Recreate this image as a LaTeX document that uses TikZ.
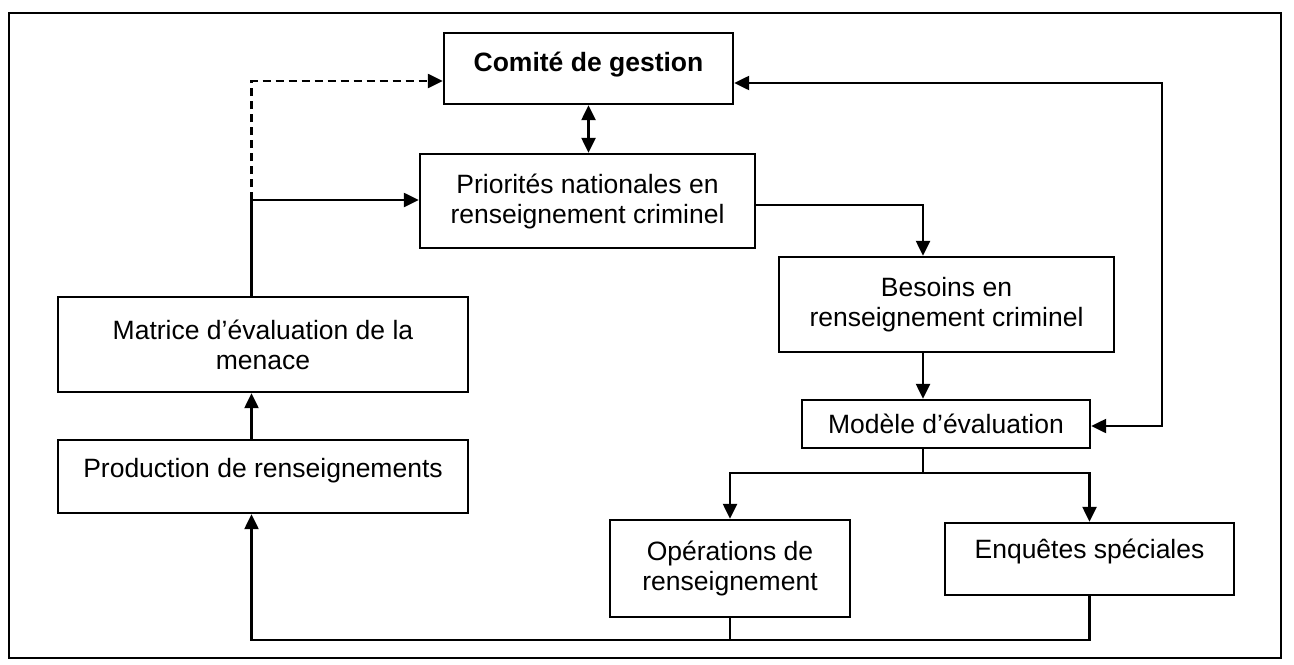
\documentclass[tikz,border=0pt]{standalone}
\usepackage{fontspec}
\setmainfont{Liberation Sans}
\usetikzlibrary{calc,positioning,arrows.meta}

\begin{document}
\begin{tikzpicture}[x=0.5pt,y=-0.5pt,line width=1.2pt,>={Triangle[length=7.5pt,width=7pt]},
  box/.style={draw,rectangle,align=center,inner sep=0pt,font=\fontsize{13.25}{15}\selectfont},
  up/.style={text depth=#1}]
            \useasboundingbox (0,0) rectangle (1294,664);
            \draw[line width=1.2pt] (9,13) rectangle (1281,658);

            \node[box,minimum width=144.5pt,minimum height=35.5pt,up=6.5pt,font=\fontsize{13.25}{15}\selectfont\bfseries] (com) at (588.5,68.5) {Comité de gestion};
            \node[box,minimum width=167.5pt,minimum height=47pt] (prio) at (587.5,201) {Priorités nationales en\\renseignement criminel};
            \node[box,minimum width=167.5pt,minimum height=47.5pt] (bes) at (946.5,304.5) {Besoins en\\renseignement criminel};
            \node[box,minimum width=144pt,minimum height=24pt] (mod) at (946,424) {Modèle d’évaluation};
            \node[box,minimum width=120pt,minimum height=48.5pt] (ops) at (730,568.5) {Opérations de\\renseignement};
            \node[box,minimum width=144.5pt,minimum height=36pt,up=10pt] (enq) at (1089.5,559) {Enquêtes spéciales};
            \node[box,minimum width=205pt,minimum height=47.5pt] (mat) at (263,344.5) {Matrice d’évaluation de la\\menace};
            \node[box,minimum width=205pt,minimum height=36.5pt,up=9pt] (prod) at (263,476.5) {Production de renseignements};

            \coordinate (j) at (251.5,200);
            \coordinate (col) at (923,473);
            \coordinate (bot) at (251.5,640);
            \coordinate (fbtop) at (1162,83);
            \coordinate (fbbot) at (1162,426);

            \draw[->,dash pattern=on 4pt off 2.5pt] (j) |- ([yshift=-6.25pt]com.west);
            \draw[->] (mat.north -| j) -- (j) -- (j -| prio.west);
            \draw[<->] (com.south) -- (com.south |- prio.north);
            \draw[->] ([yshift=-2pt]prio.east) -| (col |- bes.north);
            \draw[->] (col |- bes.south) -- (col |- mod.north);
            \draw[<->] (fbbot -| mod.east) -- (fbbot) -- (fbtop) -- (fbtop -| com.east);
            \draw (col |- mod.south) -- (col);
            \draw[->] (col) -| (ops.north);
            \draw[->] (col) -| (enq.north);
            \draw (ops.south) -- (ops.south |- bot);
            \draw[->] (enq.south) |- (bot) -- (bot |- prod.south);
            \draw[->] (prod.north -| bot) -- (mat.south -| bot);
          \end{tikzpicture}
\end{document}
